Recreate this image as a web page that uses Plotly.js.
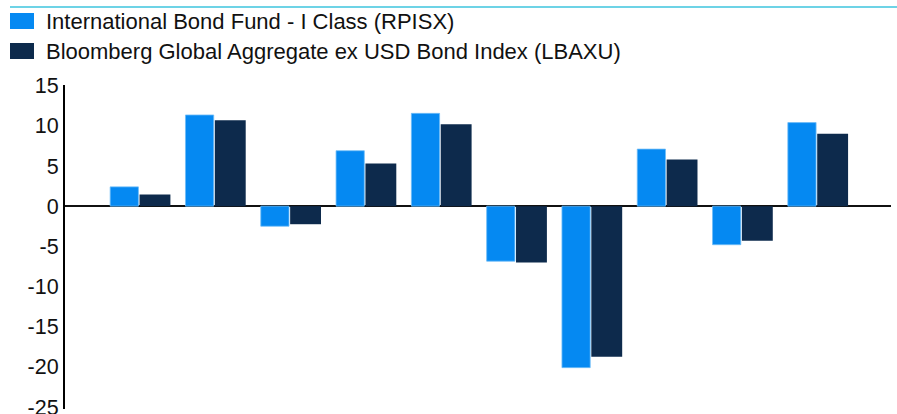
<!DOCTYPE html>
<html>
<head>
<meta charset="utf-8">
<script src="https://cdn.plot.ly/plotly-3.0.1.min.js"></script>
<style>
  html, body { margin: 0; padding: 0; background: #fff; }
  #chart { width: 897px; height: 414px; }
</style>
</head>
<body>
<div id="chart"></div>
<script>
// Calendar years (labels not visible in the reference crop)
const categories = ["2016", "2017", "2018", "2019", "2020", "2021", "2022", "2023", "2024", "2025"];
const seriesNames = ["International Bond Fund - I Class (RPISX)", "Bloomberg Global Aggregate ex USD Bond Index (LBAXU)"];
const fundReturns = [2.4, 11.35, -2.5, 6.9, 11.55, -6.85, -20.1, 7.1, -4.8, 10.4];
const indexReturns = [1.45, 10.7, -2.25, 5.3, 10.2, -7.0, -18.75, 5.8, -4.3, 9.0];
const yTicks = [-25, -20, -15, -10, -5, 0, 5, 10, 15];

const FONT = "Liberation Sans, Arial, sans-serif";
const COLORS = ["#0589f2", "#0d2a4c"];

// figure geometry (pixels) used to place the custom legend in paper coords
const W = 897, H = 414, ML = 65, MR = 6, MT = 85, MB = 5;
const PW = W - ML - MR, PH = H - MT - MB;
const px = v => (v - ML) / PW;
const py = v => (H - MB - v) / PH;

const traces = [
  {
    type: "bar",
    name: seriesNames[0],
    x: categories,
    y: fundReturns,
    offset: -0.4,
    width: 0.375,
    marker: { color: COLORS[0], line: { color: "#6fbdf8", width: 0.8 } },
    showlegend: false,
    hoverinfo: "y"
  },
  {
    type: "bar",
    name: seriesNames[1],
    x: categories,
    y: indexReturns,
    offset: -0.01,
    width: 0.41,
    marker: { color: COLORS[1], line: { width: 0 } },
    showlegend: false,
    hoverinfo: "y"
  }
];

// custom legend rows (symbol rectangles + text)
const legendRows = [{ top: 13, mid: 21.5 }, { top: 43, mid: 51.5 }];
const shapes = [
  {
    type: "line", xref: "paper", yref: "paper",
    x0: px(10), x1: px(W + 2), y0: py(7), y1: py(7),
    line: { color: "#3cc4de", width: 1.5 }
  }
];
const annotations = [];
legendRows.forEach((r, i) => {
  shapes.push({
    type: "rect", xref: "paper", yref: "paper",
    x0: px(10), x1: px(34), y0: py(r.top), y1: py(r.top + 16),
    fillcolor: COLORS[i], line: { width: 0 }
  });
  annotations.push({
    xref: "paper", yref: "paper",
    x: px(44), y: py(r.mid),
    xanchor: "left", yanchor: "middle",
    text: seriesNames[i], showarrow: false,
    font: { family: FONT, size: 22, color: "#111111" }
  });
});

const layout = {
  width: W,
  height: H,
  margin: { l: ML, r: MR, t: MT, b: MB, pad: 0 },
  paper_bgcolor: "#ffffff",
  plot_bgcolor: "#ffffff",
  font: { family: FONT, size: 21, color: "#111111" },
  showlegend: false,
  xaxis: {
    type: "category",
    range: [-1.0, 9.97],
    showticklabels: false,
    showline: false,
    showgrid: false,
    zeroline: false,
    ticks: ""
  },
  yaxis: {
    range: [-25.25, 15.08],
    tickvals: yTicks,
    ticktext: yTicks.map(String),
    ticklabeloverflow: "allow",
    automargin: false,
    showline: true,
    linecolor: "#000000",
    linewidth: 2,
    showgrid: false,
    zeroline: true,
    zerolinecolor: "#111111",
    zerolinewidth: 2.5,
    ticks: "",
    tickfont: { family: FONT, size: 21.5, color: "#111111" }
  },
  shapes: shapes,
  annotations: annotations
};

Plotly.newPlot("chart", traces, layout, { displayModeBar: false, staticPlot: true });
</script>
</body>
</html>
